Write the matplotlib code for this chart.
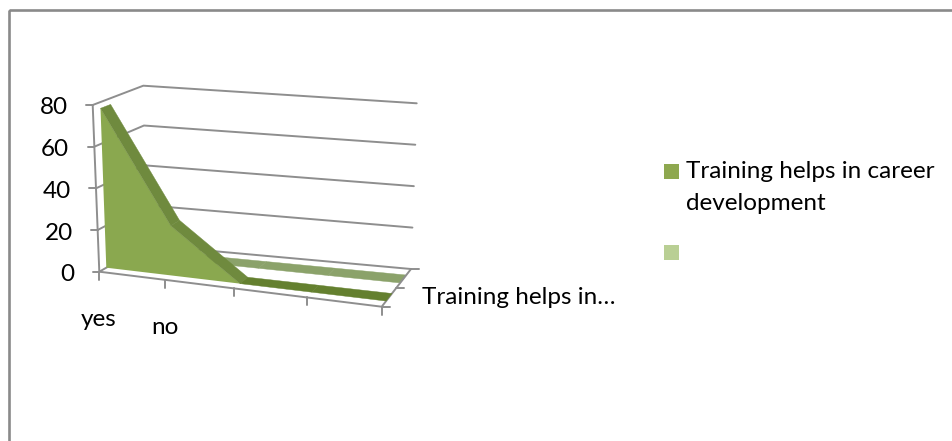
import numpy as np
from matplotlib import pyplot as plt
from matplotlib.patches import Polygon, Rectangle

plt.rcParams['font.family'] = ['Lato', 'DejaVu Sans']

# chart data
categories = ["yes", "no", "", "", ""]
value_ticks = [0, 20, 40, 60, 80]
front_values = [77, 24, 0, 0, 0]
back_values = [0, 0, 0, 0, 0]
series_label = ["Training helps in career", "development"]
depth_label = "Training helps in…"

# corners of the fake 3d box, in pixels
floor_fl = np.array([99.3, 271.7])
floor_bl = np.array([146.0, 245.0])
floor_br = np.array([411.0, 269.0])
floor_fr = np.array([381.7, 306.7])
top_fl = np.array([92.7, 105.0])
top_bl = np.array([143.3, 85.7])
top_br = np.array([416.7, 103.3])
top_fr = np.array([387.0, 140.0])
vmax = 80.0
ncat = len(categories)
# categories get a bit wider to the front right
cat_pos = [0, 0.234, 0.478, 0.734, 1]

text_size = 17.5


def project(cat, value, depth):
    # cat is the category index, depth runs 0 (front) to 1 (back)
    u = cat_pos[cat]
    v = value / vmax
    floor = (1 - depth) * ((1 - u) * floor_fl + u * floor_fr) + depth * ((1 - u) * floor_bl + u * floor_br)
    top = (1 - depth) * ((1 - u) * top_fl + u * top_fr) + depth * ((1 - u) * top_bl + u * top_br)
    return (1 - v) * floor + v * top


def line(ax, pts, color="#8e8e8e", lw=1.4, z=1):
    pts = np.array(pts)
    ax.plot(pts[:, 0], pts[:, 1], color=color, lw=lw, zorder=z, solid_capstyle="round")


def ribbon(ax, values, d0, d1, slope_color, flat_color, face_color, z):
    cats = range(len(values))
    front = [project(c, values[c], d0) for c in cats]
    base = [project(c, 0, d0) for c in cats]
    ax.add_patch(Polygon(front + base[::-1], closed=True, fc=face_color, ec="none", zorder=z))
    # top surface, sloped parts are lit a bit more than flat ones
    for c in range(len(values) - 1):
        col = flat_color if values[c] == values[c + 1] else slope_color
        quad = [project(c, values[c], d0), project(c + 1, values[c + 1], d0),
                project(c + 1, values[c + 1], d1), project(c, values[c], d1)]
        ax.add_patch(Polygon(quad, closed=True, fc=col, ec=col, lw=0.3, zorder=z + 1))


fig = plt.figure(figsize=(9.52, 4.41), dpi=100)
ax = fig.add_axes([0, 0, 1, 1])
ax.set_xlim(0, 952)
ax.set_ylim(441, 0)
ax.axis("off")

# outer frame, runs off the right and bottom of the picture
ax.add_patch(Rectangle((8.7, 10.2), 1000, 500, fc="none", ec="#8a8a8a", lw=1.9, zorder=0))

# walls and gridlines
for val in value_ticks:
    line(ax, [project(0, val, 0), project(0, val, 1), project(ncat - 1, val, 1)])
    tick_start = project(0, val, 0)
    line(ax, [tick_start, tick_start + np.array([-6.7, 0])])
    ax.text(tick_start[0] - 25, tick_start[1] + 3, str(val), ha="right", va="center",
            fontsize=text_size, color="black")
line(ax, [project(0, 0, 0), project(0, 80, 0)])

# floor edges and ticks
line(ax, [project(0, 0, 0), project(ncat - 1, 0, 0), project(ncat - 1, 0, 1)], z=4)
for c in range(ncat):
    p = project(c, 0, 0)
    line(ax, [p, p + np.array([0, 8])], z=4)
for d in [0, 0.5, 1]:
    p = project(ncat - 1, 0, d)
    line(ax, [p, p + np.array([8, 0])], z=4)

# series
ribbon(ax, back_values, 0.63, 0.84, "#8ba26a", "#8ba26a", "#8ba26a", 2)
ribbon(ax, front_values, 0.15, 0.35, "#6f8a3e", "#64802f", "#8aa84f", 5)

# category and depth labels
ax.text(99, 319, categories[0], ha="center", va="center", fontsize=text_size, color="black")
ax.text(165, 327, categories[1], ha="center", va="center", fontsize=text_size, color="black")
ax.text(422, 298, depth_label, ha="left", va="center", fontsize=text_size, color="black")

# legend
ax.add_patch(Rectangle((664, 164), 15, 15, fc="#8ea84f", ec="none"))
ax.add_patch(Rectangle((664, 245), 15, 15, fc="#b9cf94", ec="none"))
ax.text(686, 172, series_label[0], ha="left", va="center", fontsize=text_size, color="black")
ax.text(686, 203, series_label[1], ha="left", va="center", fontsize=text_size, color="black")

fig.savefig("out.png", dpi=100)
